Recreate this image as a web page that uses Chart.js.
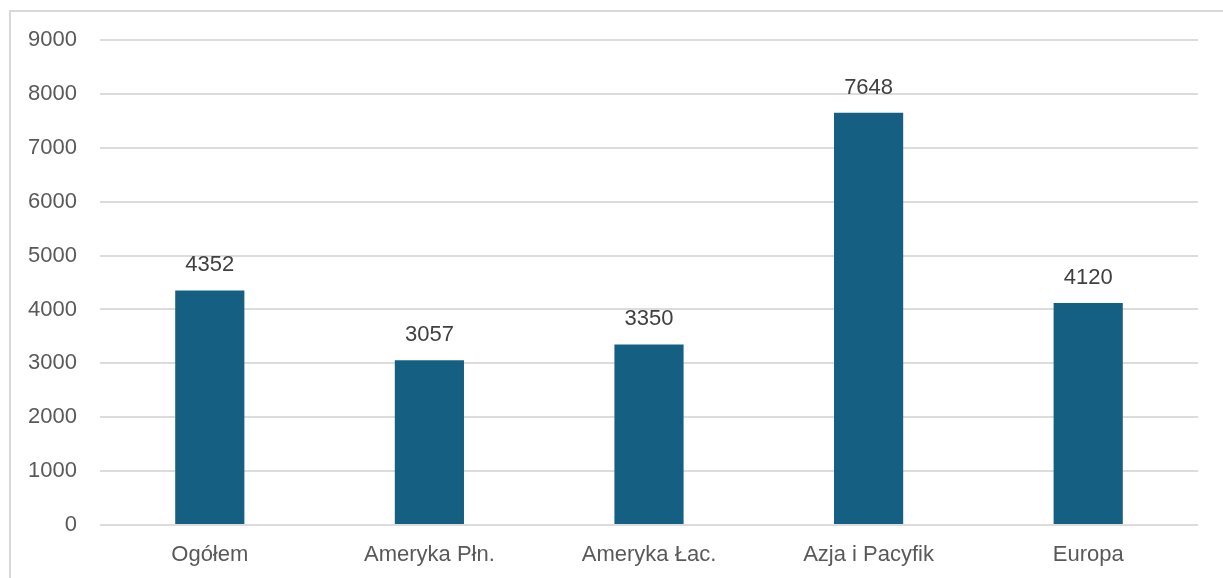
<!DOCTYPE html>
<html lang="pl">
<head>
<meta charset="utf-8">
<title>Wykres</title>
<script src="https://cdn.jsdelivr.net/npm/chart.js@4/dist/chart.umd.min.js"></script>
<style>
  html, body { margin: 0; padding: 0; background: #ffffff; overflow: hidden; }
  #wrap { position: relative; width: 1223px; height: 578px; }
  #frame {
    position: absolute; left: 9px; top: 10px; width: 1240px; height: 600px;
    border-left: 2px solid #d9d9d9; border-top: 2px solid #d9d9d9;
    box-sizing: border-box; pointer-events: none;
  }
  canvas { position: absolute; left: 0; top: 0; }
</style>
</head>
<body>
<div id="wrap">
  <div id="frame"></div>
  <canvas id="chart" width="1223" height="578"></canvas>
</div>
<script>
// Regiony i wartości
const categories = ['Ogółem', 'Ameryka Płn.', 'Ameryka Łac.', 'Azja i Pacyfik', 'Europa'];
const values = [4352, 3057, 3350, 7648, 4120];
const yTicks = [0, 1000, 2000, 3000, 4000, 5000, 6000, 7000, 8000, 9000];

const FONT = '"Liberation Sans", Arial, sans-serif';

// Etykiety wartości nad słupkami
const valueLabels = {
  id: 'valueLabels',
  afterDatasetsDraw(chart) {
    const ctx = chart.ctx;
    const meta = chart.getDatasetMeta(0);
    ctx.save();
    ctx.font = '22px ' + FONT;
    ctx.fillStyle = '#404040';
    ctx.textAlign = 'center';
    ctx.textBaseline = 'alphabetic';
    meta.data.forEach((bar, i) => {
      ctx.fillText(String(values[i]), bar.x, bar.y - 19);
    });
    ctx.restore();
  }
};

new Chart(document.getElementById('chart'), {
  type: 'bar',
  data: {
    labels: categories,
    datasets: [{
      data: values,
      backgroundColor: '#156082',
      borderWidth: 0,
      categoryPercentage: 1,
      barPercentage: 0.315
    }]
  },
  options: {
    responsive: false,
    devicePixelRatio: 1,
    animation: false,
    layout: { padding: { left: 0, right: 25, top: 40, bottom: 0 } },
    plugins: { legend: { display: false }, tooltip: { enabled: false } },
    scales: {
      x: {
        grid: { display: false, drawTicks: false },
        border: { display: false },
        ticks: {
          color: '#595959',
          font: { family: FONT, size: 22 },
          padding: 17,
          maxRotation: 0
        },
        afterFit(scale) { scale.height = 53; }
      },
      y: {
        min: 0,
        max: yTicks[yTicks.length - 1],
        afterBuildTicks(scale) { scale.ticks = yTicks.map(v => ({ value: v })); },
        grid: { color: '#dcdcdc', lineWidth: 2, drawTicks: false },
        border: { display: false },
        ticks: {
          color: '#595959',
          font: { family: FONT, size: 22 },
          padding: 23,
          callback: (v) => String(v)
        },
        afterFit(scale) { scale.width = 100; }
      }
    }
  },
  plugins: [valueLabels]
});
</script>
</body>
</html>
